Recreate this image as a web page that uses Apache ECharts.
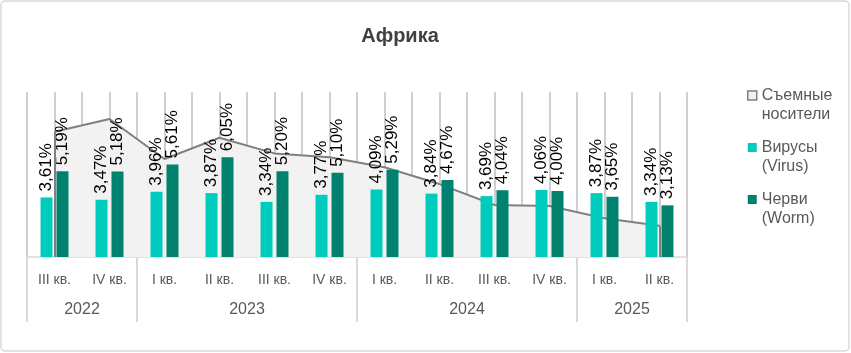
<!DOCTYPE html>
<html>
<head>
<meta charset="utf-8">
<script src="https://cdn.jsdelivr.net/npm/echarts@6/dist/echarts.min.js"></script>
<style>
  html, body { margin: 0; padding: 0; background: #fff; }
  #chart { width: 851px; height: 353px; }
</style>
</head>
<body>
<div id="chart"></div>
<script>
  const quarters = ["III кв.", "IV кв.", "I кв.", "II кв.", "III кв.", "IV кв.", "I кв.", "II кв.", "III кв.", "IV кв.", "I кв.", "II кв."];
  const years = ["2022", "2023", "2024", "2025"];
  const yearSpans = [2, 4, 4, 2];
  const virus = [3.61, 3.47, 3.96, 3.87, 3.34, 3.77, 4.09, 3.84, 3.69, 4.06, 3.87, 3.34];
  const worm = [5.19, 5.18, 5.61, 6.05, 5.2, 5.1, 5.29, 4.67, 4.04, 4.0, 3.65, 3.13];
  const removable = [7.59, 8.36, 5.94, 7.23, 6.28, 6.04, 5.44, 4.42, 3.15, 3.09, 2.35, 1.9];

  const NAME_REMOVABLE = "Съемные\nносители";
  const NAME_VIRUS = "Вирусы\n(Virus)";
  const NAME_WORM = "Черви\n(Worm)";
  const FONT = "'Liberation Sans', Arial, sans-serif";

  // year group boundaries and centers, in quarter units
  const yearEdges = [0];
  yearSpans.forEach((s) => yearEdges.push(yearEdges[yearEdges.length - 1] + s));
  const yearCenters = yearSpans.map((s, i) => yearEdges[i] + s / 2);

  const fmt = (v) => v.toFixed(2).replace(".", ",") + "%";

  const barLabel = {
    show: true,
    position: "top",
    rotate: 90,
    align: "left",
    verticalAlign: "middle",
    distance: 6,
    color: "#000",
    fontSize: 17,
    fontFamily: FONT,
    formatter: (p) => fmt(p.value),
  };

  const chart = echarts.init(document.getElementById("chart"));
  const last = removable.length - 1;

  chart.setOption({
    animation: false,
    graphic: [
      {
        type: "rect",
        shape: { x: 1, y: 1, width: 848, height: 350, r: 4 },
        style: { fill: "none", stroke: "#d9d9d9", lineWidth: 1.5 },
        silent: true,
      },
      {
        type: "text",
        x: 400,
        y: 36,
        style: {
          text: "Африка",
          align: "center",
          verticalAlign: "middle",
          fill: "#404040",
          font: "bold 20px " + FONT,
        },
      },
    ],
    grid: { left: 27, right: 164, top: 92, bottom: 96 },
    legend: {
      orient: "vertical",
      left: 747,
      top: 67,
      padding: 0,
      itemWidth: 9,
      itemHeight: 9,
      itemGap: -5,
      // leading blank line keeps the marker level with the first text line
      formatter: (name) => "\n" + name,
      textStyle: {
        color: "#595959",
        fontSize: 16,
        fontFamily: FONT,
        lineHeight: 19,
      },
      data: [
        { name: NAME_REMOVABLE, icon: "rect", itemStyle: { color: "#f2f2f2", borderColor: "#808080", borderWidth: 1.5 } },
        { name: NAME_VIRUS, icon: "rect" },
        { name: NAME_WORM, icon: "rect" },
      ],
    },
    xAxis: [
      {
        type: "category",
        data: quarters,
        position: "bottom",
        axisLine: { lineStyle: { color: "#d9d9d9", width: 1.5 } },
        axisTick: { show: false },
        axisLabel: { interval: 0, margin: 16, color: "#595959", fontSize: 14, fontFamily: FONT },
        splitLine: { show: false },
      },
      {
        type: "value",
        min: 0,
        max: quarters.length,
        interval: 1,
        position: "bottom",
        axisLine: { show: false },
        splitLine: { show: false },
        axisTick: {
          show: true,
          length: 65,
          customValues: yearEdges,
          lineStyle: { color: "#d9d9d9", width: 2 },
        },
        axisLabel: {
          customValues: yearCenters,
          margin: 45,
          color: "#595959",
          fontSize: 16,
          fontFamily: FONT,
          formatter: (v) => years[yearCenters.indexOf(v)] || "",
        },
      },
      {
        // half-category vertical grid lines
        type: "value",
        min: 0,
        max: quarters.length * 2,
        interval: 1,
        position: "top",
        axisLine: { show: false },
        axisTick: { show: false },
        axisLabel: { show: false },
        splitLine: { show: true, lineStyle: { color: "#bfbfbf", width: 1.5 } },
      },
    ],
    yAxis: {
      type: "value",
      min: 0,
      max: 10,
      show: false,
      splitLine: { show: false },
    },
    series: [
      {
        name: NAME_REMOVABLE,
        type: "line",
        data: removable,
        symbol: "none",
        z: 1,
        lineStyle: { color: "#808080", width: 2 },
        areaStyle: { color: "#f2f2f2", opacity: 1 },
        markLine: {
          silent: true,
          symbol: "none",
          label: { show: false },
          lineStyle: { color: "#808080", width: 2, type: "solid" },
          data: [
            [{ coord: [0, 0] }, { coord: [0, removable[0]] }],
            [{ coord: [last, 0] }, { coord: [last, removable[last]] }],
          ],
        },
      },
      {
        name: NAME_VIRUS,
        type: "bar",
        data: virus,
        barWidth: 12,
        barGap: "33%",
        z: 3,
        itemStyle: { color: "#00ccbe" },
        label: barLabel,
      },
      {
        name: NAME_WORM,
        type: "bar",
        data: worm,
        barWidth: 12,
        z: 3,
        itemStyle: { color: "#00826f" },
        label: barLabel,
      },
    ],
  });
</script>
</body>
</html>
